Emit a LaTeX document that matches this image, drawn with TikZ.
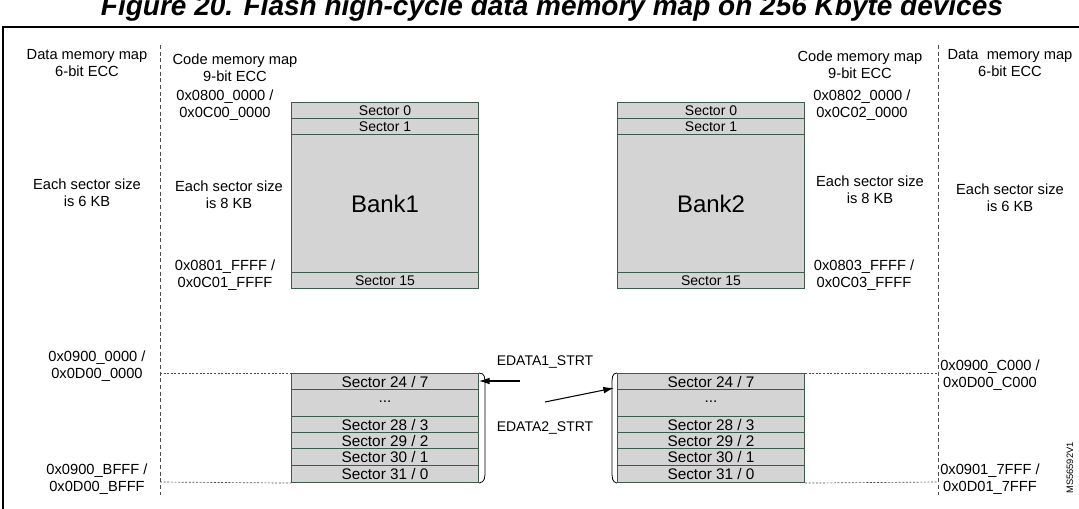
\documentclass[tikz,border=0pt]{standalone}
\usepackage{fontspec}
\setmainfont{Liberation Sans}
\begin{document}
\begin{tikzpicture}[x=0.75pt,y=-0.75pt,
 lbl/.style={font=\fontsize{11}{12.5}\selectfont,inner sep=0pt,align=center},
 sec/.style={draw=secc,fill=secf,line width=0.8pt,minimum width=140.25pt,inner sep=0pt,font=\fontsize{10.5}{11}\selectfont},
 secb/.style={sec,font=\fontsize{11.5}{12}\selectfont},
 dl/.style={dash pattern=on 3pt off 2pt,line width=0.5pt,gray!60!black},
 dt/.style={dash pattern=on 1.5pt off 1.2pt,line width=0.5pt,gray!60!black},
 arr/.style={-{Latex[length=8pt,width=5pt]},line width=0.8pt}]
\usetikzlibrary{arrows.meta}
\definecolor{secc}{HTML}{3D5A4A}
\definecolor{secf}{HTML}{D4D4D4}
\useasboundingbox (0,0) rectangle (1079,508);
\clip (0,0) rectangle (1079,508);
\node[anchor=base,inner sep=0pt,font=\bfseries\itshape\fontsize{21}{24}\selectfont] (title) at (552,15) {Figure 20. Flash high-cycle data memory map on 256 Kbyte devices};
\draw[line width=1.5pt] (3,520) -- (3,27) -- (1085,27);
% dashed verticals
\draw[dl] (160,45) -- (160,495);
\draw[dl] (938,45) -- (938,495);
% top banks
\foreach \x/\n in {291/1,617/2}{
 \node[sec,anchor=north west,minimum height=12pt] (s0\n) at (\x,102) {Sector 0};
 \node[sec,anchor=north west,minimum height=12pt] (s1\n) at (\x,118) {Sector 1};
 \node[sec,anchor=north west,minimum height=103.5pt,font=\fontsize{18}{20}\selectfont] (b\n) at (\x,134) {Bank\n};
 \node[sec,anchor=north west,minimum height=12pt] (s15\n) at (\x,272) {Sector 15};
 \node[secb,anchor=north west,minimum height=12pt] (a\n) at (\x,373) {Sector 24 / 7};
 \node[secb,anchor=north west,minimum height=20.25pt] (d\n) at (\x,389) {\raisebox{2pt}{...}};
 \node[secb,anchor=north west,minimum height=12pt] (c\n) at (\x,416) {Sector 28 / 3};
 \node[secb,anchor=north west,minimum height=12pt] (e\n) at (\x,432) {Sector 29 / 2};
 \node[secb,anchor=north west,minimum height=12.75pt] (f\n) at (\x,448) {Sector 30 / 1};
 \node[secb,anchor=north west,minimum height=12.75pt] (g\n) at (\x,465) {Sector 31 / 0};
}
% brackets
\draw[line width=0.6pt] (a1.north east) .. controls (485,373) and (485,378) .. (485,385) -- (485,470) .. controls (485,478) and (485,482) .. (g1.south east);
\draw[line width=0.6pt] (a2.north west) .. controls (612,373) and (612,378) .. (612,385) -- (612,470) .. controls (612,478) and (612,482) .. (g2.south west);
% dotted horizontals
\coordinate (l1) at (160,373); \coordinate (l2) at (160,482);
\coordinate (r1) at (938,373); \coordinate (r2) at (938,482);
\draw[dt] (l1) -- (a1.north west); \draw[dt] (l2) -- (g1.south west);
\draw[dt] (a2.north east) -- (r1); \draw[dt] (g2.south east) -- (r2);
% arrows
\node[lbl,font=\fontsize{10.5}{12}\selectfont] (ed1) at (545,362) {EDATA1\_STRT};
\node[lbl,font=\fontsize{10.5}{12}\selectfont] (ed2) at (545,428) {EDATA2\_STRT};
\coordinate (e1s) at (520,381); \coordinate (e1e) at (479,381);
\coordinate (e2s) at (545,402); \coordinate (e2e) at (614,388);
\draw[arr] (e1s) -- (e1e);
\draw[arr] (e2s) -- (e2e);
% left texts
\node[lbl] (t1) at (87,63) {Data memory map\\6-bit ECC};
\node[lbl] (t2) at (235,68) {Code memory map\\9-bit ECC};
\node[lbl] (t3) at (225,105) {0x0800\_0000 /\\0x0C00\_0000};
\node[lbl] (t4) at (87,193) {Each sector size\\is 6 KB};
\node[lbl] (t5) at (229,195) {Each sector size\\is 8 KB};
\node[lbl] (t6) at (225,275) {0x0801\_FFFF /\\0x0C01\_FFFF};
\node[lbl] (t7) at (97,366) {0x0900\_0000 /\\0x0D00\_0000};
\node[lbl] (t8) at (97,479) {0x0900\_BFFF /\\0x0D00\_BFFF};
% right texts
\node[lbl] (u1) at (860,65) {Code memory map\\9-bit ECC};
\node[lbl] (u2) at (862,105) {0x0802\_0000 /\\0x0C02\_0000};
\node[lbl] (u3) at (870,190) {Each sector size\\is 8 KB};
\node[lbl] (u4) at (864,275) {0x0803\_FFFF /\\0x0C03\_FFFF};
\node[lbl] (u5) at (1010,63) {Data~~memory map\\6-bit ECC};
\node[lbl] (u6) at (1010,198) {Each sector size\\is 6 KB};
\node[lbl] (u7) at (990,375) {0x0900\_C000 /\\0x0D00\_C000};
\node[lbl] (u8) at (990,479) {0x0901\_7FFF /\\0x0D01\_7FFF};
\node[lbl,rotate=90,font=\fontsize{7}{8}\selectfont] (ms) at (1070,468) {MS56592V1};
\end{tikzpicture}
\end{document}
